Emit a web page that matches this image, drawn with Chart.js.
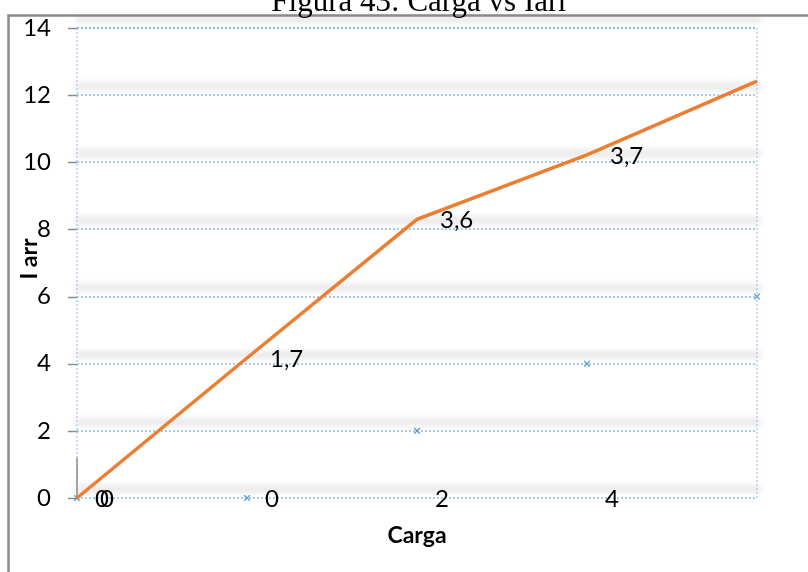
<!DOCTYPE html>
<html>
<head>
<meta charset="utf-8">
<script src="https://cdn.jsdelivr.net/npm/chart.js@4.4.1/dist/chart.umd.min.js"></script>
<style>
  html, body { margin: 0; padding: 0; background: #ffffff; }
  #wrap { width: 808px; height: 572px; position: relative; overflow: hidden; }
</style>
</head>
<body>
<div id="wrap"><canvas id="c" width="808" height="572"></canvas></div>
<script>
// Load positions along the horizontal axis
const categories = [0, 1, 2, 3, 4];
// Current values (orange line)
const iarrValues = [0, 4.17, 8.3, 10.22, 12.42];
// Secondary marker series
const markerValues = [0, 0, 2, 4, 6];
// Text written next to the orange points
const cargaLabels = ['0', '1,7', '3,6', '3,7', ''];
// Text written along the horizontal axis
const axisLabels = ['0', '0', '2', '4'];
const titleText = 'Figura 43: Carga vs Iarr';
const xTitle = 'Carga';
const yTitle = 'I arr';

const FONT = 'Lato, "Open Sans", sans-serif';

const decor = {
  id: 'decor',
  beforeDraw(chart) {
    const ctx = chart.ctx;
    ctx.save();
    ctx.fillStyle = '#ffffff';
    ctx.fillRect(0, 0, chart.width, chart.height);
    ctx.restore();
  },
  beforeDatasetsDraw(chart) {
    const { ctx, chartArea: a, scales: { x, y } } = chart;
    const ticks = y.ticks.map(t => t.value);
    ctx.save();
    // soft grey band above every gridline
    ctx.filter = 'blur(3px)';
    ctx.fillStyle = 'rgba(0,0,0,0.11)';
    ticks.forEach(v => {
      const py = y.getPixelForValue(v);
      ctx.fillRect(a.left - 2, py - 12, a.right - a.left + 6, 6);
    });
    ctx.filter = 'none';
    // dotted gridlines
    ctx.lineWidth = 2;
    ctx.setLineDash([2, 2]);
    ticks.forEach(v => {
      const py = Math.round(y.getPixelForValue(v));
      ctx.strokeStyle = v === y.max ? '#8fb6e8' : '#a9c9ef';
      ctx.beginPath();
      ctx.moveTo(a.left, py);
      ctx.lineTo(a.right, py);
      ctx.stroke();
    });
    // right and left dotted borders
    ctx.strokeStyle = '#b3cff0';
    ctx.lineWidth = 1.5;
    [a.right, a.left].forEach(px => {
      ctx.beginPath();
      ctx.moveTo(px, a.top);
      ctx.lineTo(px, a.bottom);
      ctx.stroke();
    });
    ctx.setLineDash([]);
    // solid grey piece of the vertical axis near the origin
    ctx.strokeStyle = '#8c8c8c';
    ctx.lineWidth = 1.5;
    ctx.beginPath();
    ctx.moveTo(a.left, y.getPixelForValue(1.2));
    ctx.lineTo(a.left, a.bottom);
    ctx.stroke();
    // tick marks
    ticks.forEach(v => {
      const py = Math.round(y.getPixelForValue(v)) + 0.5;
      ctx.beginPath();
      ctx.moveTo(a.left - 9, py);
      ctx.lineTo(a.left, py);
      ctx.stroke();
    });
    ctx.restore();
  },
  afterDatasetsDraw(chart) {
    const { ctx, chartArea: a, scales: { x, y } } = chart;
    ctx.save();
    ctx.fillStyle = '#000000';
    ctx.font = '24px ' + FONT;
    ctx.textBaseline = 'middle';
    // labels along the horizontal axis
    ctx.textAlign = 'center';
    axisLabels.forEach((t, i) => {
      ctx.fillText(t, x.getPixelForValue(categories[i]) + 25, y.getPixelForValue(0) + 1);
    });
    // labels beside the orange points
    ctx.textAlign = 'left';
    cargaLabels.forEach((t, i) => {
      if (!t) return;
      ctx.fillText(t, x.getPixelForValue(categories[i]) + 23, y.getPixelForValue(iarrValues[i]) + 1);
    });
    // axis titles
    ctx.font = 'bold 23px ' + FONT;
    ctx.textAlign = 'center';
    ctx.fillText(xTitle, (a.left + a.right) / 2, 536);
    ctx.translate(30, 259);
    ctx.rotate(-Math.PI / 2);
    ctx.fillText(yTitle, 0, 0);
    ctx.restore();

    // outer frame
    ctx.save();
    ctx.strokeStyle = '#8a8a8a';
    ctx.lineWidth = 2.5;
    ctx.beginPath();
    ctx.moveTo(8.5, chart.height + 2);
    ctx.lineTo(8.5, 15.5);
    ctx.lineTo(chart.width + 2, 15.5);
    ctx.stroke();
    // caption above the frame
    ctx.fillStyle = '#000000';
    ctx.font = '31px "Liberation Serif", "Times New Roman", serif';
    ctx.textAlign = 'center';
    ctx.textBaseline = 'alphabetic';
    ctx.fillText(titleText, 420, 11);
    ctx.restore();
  }
};

new Chart(document.getElementById('c'), {
  type: 'line',
  data: {
    datasets: [
      {
        label: 'Iarr',
        data: categories.map((c, i) => ({ x: c, y: iarrValues[i] })),
        borderColor: '#ED7D31',
        backgroundColor: '#ED7D31',
        borderWidth: 3.5,
        pointRadius: 0,
        tension: 0,
        clip: false,
        order: 1
      },
      {
        label: 'Puntos',
        data: categories.map((c, i) => ({ x: c, y: markerValues[i] })),
        showLine: false,
        pointStyle: 'crossRot',
        pointRadius: 4,
        borderColor: '#5B9BD5',
        backgroundColor: '#5B9BD5',
        pointBorderWidth: 1.3,
        clip: false,
        order: 2
      }
    ]
  },
  options: {
    responsive: false,
    animation: false,
    layout: { autoPadding: false, padding: { top: 28, right: 51, bottom: 0, left: 0 } },
    plugins: { legend: { display: false }, tooltip: { enabled: false } },
    scales: {
      x: {
        type: 'linear',
        min: 0,
        max: 4,
        grid: { display: false },
        border: { display: false },
        ticks: { display: false },
        afterFit(s) { s.height = 74; }
      },
      y: {
        min: 0,
        max: 14,
        grid: { display: false },
        border: { display: false },
        ticks: {
          stepSize: 2,
          color: '#000000',
          padding: 18,
          font: { family: FONT, size: 24 }
        },
        afterFit(s) { s.width = 77; s.paddingTop = 0; s.paddingBottom = 0; }
      }
    }
  },
  plugins: [decor]
});
</script>
</body>
</html>
